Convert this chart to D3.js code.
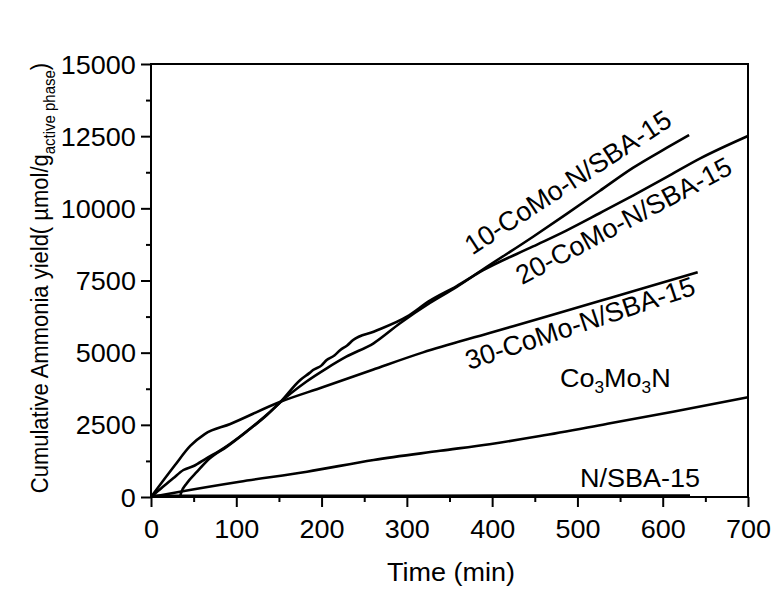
<!DOCTYPE html>
<html><head><meta charset="utf-8">
<script src="https://cdn.jsdelivr.net/npm/d3@7/dist/d3.min.js"></script>
<style>body{margin:0;background:#fff}svg{display:block}text{font-family:"Liberation Sans",Arial,sans-serif;fill:#000}</style>
</head><body><svg id="c" width="773" height="590"></svg>
<script>
const xTicks = [0,100,200,300,400,500,600,700];
const yTicks = [0,2500,5000,7500,10000,12500,15000];
const s10 = [[34,0],[35,120],[42,475],[54,877],[69,1340],[89,1744],[112,2263],[136,2841],[151,3267],[182,3994],[206,4458],[229,4860],[261,5325],[292,6017],[327,6720],[358,7270],[389,7880],[448,9017],[487,9800],[526,10600],[565,11400],[605,12100],[631,12540]];
const s20 = [[0,0],[14,357],[26,648],[38,935],[50,1074],[65,1341],[85,1687],[104,2089],[124,2553],[151,3267],[175,4053],[186,4300],[190,4399],[200,4560],[206,4746],[215,4900],[222,5092],[230,5250],[237,5439],[261,5727],[300,6246],[327,6800],[358,7300],[389,7850],[448,8680],[487,9230],[526,9830],[565,10440],[605,11090],[644,11730],[700,12506]];
const s30 = [[0,0],[28,1100],[46,1770],[63,2180],[93,2530],[151,3290],[202,3810],[260,4410],[319,5010],[397,5680],[468,6290],[526,6790],[585,7300],[641,7790]];
const sCo = [[0,0],[34,184],[104,530],[183,877],[261,1282],[339,1600],[397,1830],[456,2110],[534,2529],[612,2955],[700,3453]];
const sN = [[0,40],[100,40],[300,45],[500,50],[632,50]];

const svg = d3.select("#c");
const L=151, T=64, W=597, H=433;
const x = d3.scaleLinear().domain([0,700]).range([L,L+W]);
const y = d3.scaleLinear().domain([0,15000]).range([T+H,T]);
const g = svg.append("g");

const line = d3.line().x(d=>x(d[0])).y(d=>y(d[1])).curve(d3.curveMonotoneX);
[s10,s20,s30,sCo,sN].forEach(s=>{
  g.append("path").attr("d",line(s)).attr("fill","none").attr("stroke","#000").attr("stroke-width",2.6).attr("stroke-linejoin","round");
});

// frame
g.append("rect").attr("x",L).attr("y",T).attr("width",W).attr("height",H).attr("fill","none").attr("stroke","#000").attr("stroke-width",2);

// axes
const xAx = g.append("g").attr("transform",`translate(0,${T+H})`)
  .call(d3.axisBottom(x).tickValues(xTicks).tickSize(10).tickFormat(d3.format("d")));
const xMin = g.append("g").attr("transform",`translate(0,${T+H})`)
  .call(d3.axisBottom(x).tickValues(d3.range(50,700,100)).tickSize(5).tickFormat(""));
const yAx = g.append("g").attr("transform",`translate(${L},0)`)
  .call(d3.axisLeft(y).tickValues(yTicks).tickSize(10).tickPadding(4).tickFormat(d3.format("d")));
const yMin = g.append("g").attr("transform",`translate(${L},0)`)
  .call(d3.axisLeft(y).tickValues(d3.range(1250,15000,2500)).tickSize(5).tickFormat(""));
[xAx,xMin,yAx,yMin].forEach(a=>{a.select(".domain").remove();a.selectAll("line").attr("stroke","#000").attr("stroke-width",2);});
[xAx,yAx].forEach(a=>a.selectAll("text").style("font-size","25px").attr("fill","#000").attr("transform","scale(1.08,1)"));
xAx.selectAll("text").attr("y",41).attr("dy",0);
yAx.selectAll("text").attr("dy","0.36em");

// axis titles
svg.append("text").attr("transform","translate(451,581) scale(1.08,1)").attr("text-anchor","middle").style("font-size","25px").text("Time (min)");
const yt = svg.append("text").attr("transform","translate(48,278) rotate(-90) scale(1,1.1)").attr("text-anchor","middle").style("font-size","22px");
yt.append("tspan").text("Cumulative Ammonia yield( µmol/g");
yt.append("tspan").attr("dy",6).style("font-size","15px").text("active phase");
yt.append("tspan").attr("dy",-6).text(")");

// labels
function lab(t,cx,cy,ang){ svg.append("text").attr("transform",`translate(${cx},${cy}) rotate(${ang})`).attr("text-anchor","middle").style("font-size","27px").text(t); }
lab("10-CoMo-N/SBA-15",573,190,-33);
lab("20-CoMo-N/SBA-15",628,229,-28);
lab("30-CoMo-N/SBA-15",583,332,-18.4);
const co = svg.append("text").attr("transform","translate(560,387) scale(1.08,1)").style("font-size","25px");
co.append("tspan").text("Co");
co.append("tspan").attr("dy",6).style("font-size","16px").text("3");
co.append("tspan").attr("dy",-6).text("Mo");
co.append("tspan").attr("dy",6).style("font-size","16px").text("3");
co.append("tspan").attr("dy",-6).text("N");
svg.append("text").attr("transform","translate(580,487) scale(1.08,1)").style("font-size","25px").text("N/SBA-15");
</script></body></html>
